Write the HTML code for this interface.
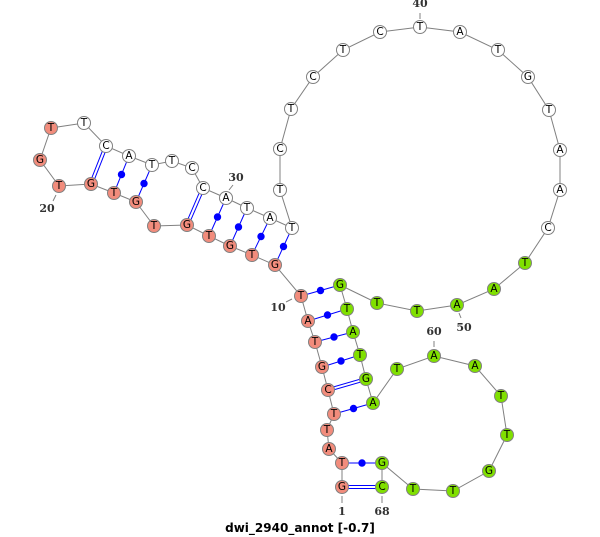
<!DOCTYPE html>
<html><head><meta charset="utf-8"><style>
html,body{margin:0;padding:0;background:#fff;width:600px;height:537px;overflow:hidden}
svg{display:block}
.n{font-family:"DejaVu Sans","Liberation Sans",sans-serif;font-size:10.5px;text-anchor:middle;fill:#000}
.l{font-family:"DejaVu Serif","Liberation Serif",serif;font-size:11px;font-weight:bold;text-anchor:middle;fill:#333}
</style></head><body>
<svg width="600" height="537" viewBox="0 0 600 537" xmlns="http://www.w3.org/2000/svg">
<polyline fill="none" stroke="#808080" stroke-width="1" points="342,487 342,463 329,449 327,430 334,414 328,390 322,367 315,342 308,321 301,296 275,265 252,255 230,246 209,236 187,225 154,226 136,202 114,193 91,184 59,186 40,160 51,128 84,123 106,146 129,156 152,165 172,161 192,168 203,188 226,198 247,208 270,218 292,228 280,190 280,149 291,109 313,77 343,50 380,32 420,27 460,32 498,50 528,77 549,110 560,150 560,190 548,228 525,263 494,289 457,305 417,311 377,303 340,285 347,309 353,332 360,355 366,379 373,403 397,369 434,356 475,366 501,396 507,435 489,471 453,491 413,489 382,463 382,487"/>
<g stroke="#0000ff" stroke-width="1">
<line x1="342" y1="463" x2="382" y2="463"/>
<line x1="334" y1="414" x2="373" y2="403"/>
<line x1="322" y1="367" x2="360" y2="355"/>
<line x1="315" y1="342" x2="353" y2="332"/>
<line x1="308" y1="321" x2="347" y2="309"/>
<line x1="301" y1="296" x2="340" y2="285"/>
<line x1="275" y1="265" x2="292" y2="228"/>
<line x1="252" y1="255" x2="270" y2="218"/>
<line x1="230" y1="246" x2="247" y2="208"/>
<line x1="209" y1="236" x2="226" y2="198"/>
<line x1="136" y1="202" x2="152" y2="165"/>
<line x1="114" y1="193" x2="129" y2="156"/>
<line x1="342" y1="485.5" x2="382" y2="485.5"/><line x1="342" y1="488.5" x2="382" y2="488.5"/>
<line x1="327.6" y1="388.6" x2="365.6" y2="377.6"/><line x1="328.4" y1="391.4" x2="366.4" y2="380.4"/>
<line x1="185.6" y1="224.4" x2="201.6" y2="187.4"/><line x1="188.4" y1="225.6" x2="204.4" y2="188.6"/>
<line x1="89.6" y1="183.4" x2="104.6" y2="145.4"/><line x1="92.4" y1="184.6" x2="107.4" y2="146.6"/>
</g>
<g fill="#0000ff">
<circle cx="362" cy="463" r="3.7"/><circle cx="353.5" cy="408.5" r="3.7"/><circle cx="341" cy="361" r="3.7"/>
<circle cx="334" cy="337" r="3.7"/><circle cx="327.5" cy="315" r="3.7"/><circle cx="320.5" cy="290.5" r="3.7"/>
<circle cx="283.5" cy="246.5" r="3.7"/><circle cx="261" cy="236.5" r="3.7"/><circle cx="238.5" cy="227" r="3.7"/>
<circle cx="217.5" cy="217" r="3.7"/><circle cx="144" cy="183.5" r="3.7"/><circle cx="121.5" cy="174.5" r="3.7"/>
</g>
<g stroke="#808080" stroke-width="1">
<line x1="342" y1="496" x2="342" y2="503"/><line x1="382" y1="496" x2="382" y2="503"/>
<line x1="292" y1="299" x2="286" y2="302"/><line x1="56" y1="195" x2="53" y2="201"/>
<line x1="229" y1="190" x2="233" y2="185"/><line x1="420" y1="13" x2="420" y2="19"/>
<line x1="459" y1="313" x2="461" y2="318"/><line x1="434" y1="341" x2="434" y2="347"/>
</g>
<g stroke="#808080" stroke-width="1">
<g fill="#f28c7c">
<circle cx="342" cy="487" r="6.5"/><circle cx="342" cy="463" r="6.5"/><circle cx="329" cy="449" r="6.5"/><circle cx="327" cy="430" r="6.5"/><circle cx="334" cy="414" r="6.5"/><circle cx="328" cy="390" r="6.5"/><circle cx="322" cy="367" r="6.5"/><circle cx="315" cy="342" r="6.5"/><circle cx="308" cy="321" r="6.5"/><circle cx="301" cy="296" r="6.5"/><circle cx="275" cy="265" r="6.5"/><circle cx="252" cy="255" r="6.5"/><circle cx="230" cy="246" r="6.5"/><circle cx="209" cy="236" r="6.5"/><circle cx="187" cy="225" r="6.5"/><circle cx="154" cy="226" r="6.5"/><circle cx="136" cy="202" r="6.5"/><circle cx="114" cy="193" r="6.5"/><circle cx="91" cy="184" r="6.5"/><circle cx="59" cy="186" r="6.5"/><circle cx="40" cy="160" r="6.5"/><circle cx="51" cy="128" r="6.5"/>
</g>
<g fill="#ffffff">
<circle cx="84" cy="123" r="6.5"/><circle cx="106" cy="146" r="6.5"/><circle cx="129" cy="156" r="6.5"/><circle cx="152" cy="165" r="6.5"/><circle cx="172" cy="161" r="6.5"/><circle cx="192" cy="168" r="6.5"/><circle cx="203" cy="188" r="6.5"/><circle cx="226" cy="198" r="6.5"/><circle cx="247" cy="208" r="6.5"/><circle cx="270" cy="218" r="6.5"/><circle cx="292" cy="228" r="6.5"/><circle cx="280" cy="190" r="6.5"/><circle cx="280" cy="149" r="6.5"/><circle cx="291" cy="109" r="6.5"/><circle cx="313" cy="77" r="6.5"/><circle cx="343" cy="50" r="6.5"/><circle cx="380" cy="32" r="6.5"/><circle cx="420" cy="27" r="6.5"/><circle cx="460" cy="32" r="6.5"/><circle cx="498" cy="50" r="6.5"/><circle cx="528" cy="77" r="6.5"/><circle cx="549" cy="110" r="6.5"/><circle cx="560" cy="150" r="6.5"/><circle cx="560" cy="190" r="6.5"/><circle cx="548" cy="228" r="6.5"/>
</g>
<g fill="#80e000">
<circle cx="525" cy="263" r="6.5"/><circle cx="494" cy="289" r="6.5"/><circle cx="457" cy="305" r="6.5"/><circle cx="417" cy="311" r="6.5"/><circle cx="377" cy="303" r="6.5"/><circle cx="340" cy="285" r="6.5"/><circle cx="347" cy="309" r="6.5"/><circle cx="353" cy="332" r="6.5"/><circle cx="360" cy="355" r="6.5"/><circle cx="366" cy="379" r="6.5"/><circle cx="373" cy="403" r="6.5"/><circle cx="397" cy="369" r="6.5"/><circle cx="434" cy="356" r="6.5"/><circle cx="475" cy="366" r="6.5"/><circle cx="501" cy="396" r="6.5"/><circle cx="507" cy="435" r="6.5"/><circle cx="489" cy="471" r="6.5"/><circle cx="453" cy="491" r="6.5"/><circle cx="413" cy="489" r="6.5"/><circle cx="382" cy="463" r="6.5"/><circle cx="382" cy="487" r="6.5"/>
</g>
</g>
<g class="n" dominant-baseline="central">
<text x="342" y="487">G</text><text x="342" y="463">T</text><text x="329" y="449">A</text><text x="327" y="430">T</text><text x="334" y="414">T</text><text x="328" y="390">C</text><text x="322" y="367">G</text><text x="315" y="342">T</text><text x="308" y="321">A</text><text x="301" y="296">T</text><text x="275" y="265">G</text><text x="252" y="255">T</text><text x="230" y="246">G</text><text x="209" y="236">T</text><text x="187" y="225">G</text><text x="154" y="226">T</text><text x="136" y="202">G</text><text x="114" y="193">T</text><text x="91" y="184">G</text><text x="59" y="186">T</text><text x="40" y="160">G</text><text x="51" y="128">T</text><text x="84" y="123">T</text><text x="106" y="146">C</text><text x="129" y="156">A</text><text x="152" y="165">T</text><text x="172" y="161">T</text><text x="192" y="168">C</text><text x="203" y="188">C</text><text x="226" y="198">A</text><text x="247" y="208">T</text><text x="270" y="218">A</text><text x="292" y="228">T</text><text x="280" y="190">T</text><text x="280" y="149">C</text><text x="291" y="109">T</text><text x="313" y="77">C</text><text x="343" y="50">T</text><text x="380" y="32">C</text><text x="420" y="27">T</text><text x="460" y="32">A</text><text x="498" y="50">T</text><text x="528" y="77">G</text><text x="549" y="110">T</text><text x="560" y="150">A</text><text x="560" y="190">A</text><text x="548" y="228">C</text><text x="525" y="263">T</text><text x="494" y="289">A</text><text x="457" y="305">A</text><text x="417" y="311">T</text><text x="377" y="303">T</text><text x="340" y="285">G</text><text x="347" y="309">T</text><text x="353" y="332">A</text><text x="360" y="355">T</text><text x="366" y="379">G</text><text x="373" y="403">A</text><text x="397" y="369">T</text><text x="434" y="356">A</text><text x="475" y="366">A</text><text x="501" y="396">T</text><text x="507" y="435">T</text><text x="489" y="471">G</text><text x="453" y="491">T</text><text x="413" y="489">T</text><text x="382" y="463">G</text><text x="382" y="487">C</text>
</g>
<g class="l">
<text x="342" y="515">1</text><text x="382" y="515">68</text><text x="278" y="311">10</text><text x="47" y="212">20</text><text x="236" y="181">30</text><text x="420" y="7">40</text><text x="464" y="331">50</text><text x="434" y="335">60</text>
</g>
<text x="300" y="532" text-anchor="middle" font-family="DejaVu Sans, Liberation Sans, sans-serif" font-size="12" font-weight="bold" fill="#000">dwi_2940_annot [-0.7]</text>
</svg>
</body></html>
